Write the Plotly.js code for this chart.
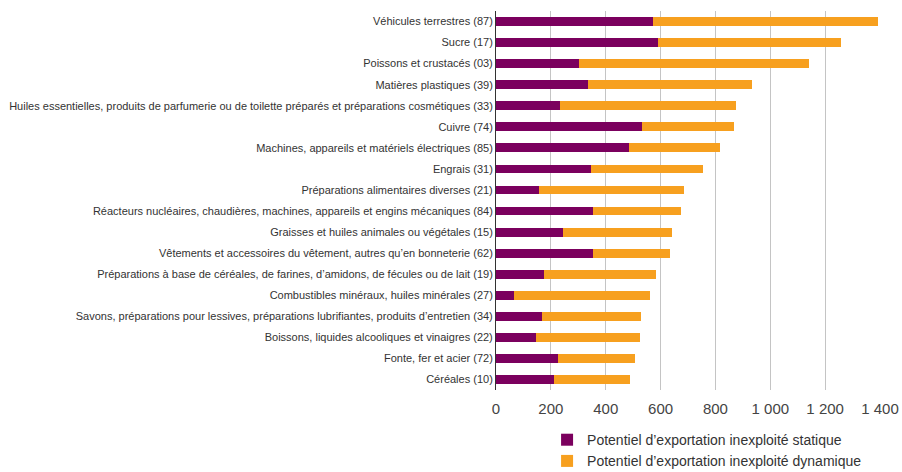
<!DOCTYPE html>
<html>
<head>
<meta charset="utf-8">
<script src="https://cdn.plot.ly/plotly-3.0.1.min.js"></script>
<style>html,body{margin:0;padding:0;background:#fff;}#chart{width:902px;height:472px;}</style>
</head>
<body>
<div id="chart"></div>
<script>
const categories = [
  "Véhicules terrestres (87)",
  "Sucre (17)",
  "Poissons et crustacés (03)",
  "Matières plastiques (39)",
  "Huiles essentielles, produits de parfumerie ou de toilette préparés et préparations cosmétiques (33)",
  "Cuivre (74)",
  "Machines, appareils et matériels électriques (85)",
  "Engrais (31)",
  "Préparations alimentaires diverses (21)",
  "Réacteurs nucléaires, chaudières, machines, appareils et engins mécaniques (84)",
  "Graisses et huiles animales ou végétales (15)",
  "Vêtements et accessoires du vêtement, autres qu’en bonneterie (62)",
  "Préparations à base de céréales, de farines, d’amidons, de fécules ou de lait (19)",
  "Combustibles minéraux, huiles minérales (27)",
  "Savons, préparations pour lessives, préparations lubrifiantes, produits d’entretien (34)",
  "Boissons, liquides alcooliques et vinaigres (22)",
  "Fonte, fer et acier (72)",
  "Céréales (10)"
];
const staticValues  = [573, 591, 304, 335, 234, 533, 485, 346, 158, 354, 244, 352, 174, 66, 167, 144, 226, 211];
const dynamicValues = [820, 666, 838, 598, 642, 335, 333, 409, 527, 320, 398, 283, 409, 496, 363, 380, 279, 279];
const seriesNames = ["Potentiel d’exportation inexploité statique", "Potentiel d’exportation inexploité dynamique"];
const tickVals = [0, 200, 400, 600, 800, 1000, 1200, 1400];

const traces = [
  {type: 'bar', orientation: 'h', name: seriesNames[0], y: categories, x: staticValues,
   marker: {color: '#7B005E'}, width: 0.42},
  {type: 'bar', orientation: 'h', name: seriesNames[1], y: categories, x: dynamicValues,
   marker: {color: '#F7A01F'}, width: 0.42}
];
const layout = {
  width: 902, height: 472,
  barmode: 'stack',
  separators: ', ',
  margin: {l: 496, r: 22, t: 11, b: 82, autoexpand: false},
  paper_bgcolor: '#fff', plot_bgcolor: '#fff',
  font: {family: 'Liberation Sans, Arial, sans-serif', color: '#333'},
  xaxis: {range: [0, 1400], tickvals: tickVals, separatethousands: true,
    showgrid: true, gridcolor: '#c4c4c4', gridwidth: 1, zeroline: false, showline: false,
    tickfont: {size: 15, color: '#444'}, ticks: '', ticklen: 0, ticklabelstandoff: 8,
    automargin: false},
  yaxis: {autorange: 'reversed', showline: true, linecolor: '#333', linewidth: 1, ticks: '',
    tickfont: {size: 11, color: '#333'}, showgrid: false, automargin: false},
  showlegend: true,
  legend: {orientation: 'v', x: 0.133, xanchor: 'left', y: -0.09, yanchor: 'top',
    font: {size: 14, color: '#333'},
    traceorder: 'normal', tracegroupgap: 0, itemwidth: 30}
};
Plotly.newPlot('chart', traces, layout, {displayModeBar: false, staticPlot: true});
</script>
</body>
</html>
